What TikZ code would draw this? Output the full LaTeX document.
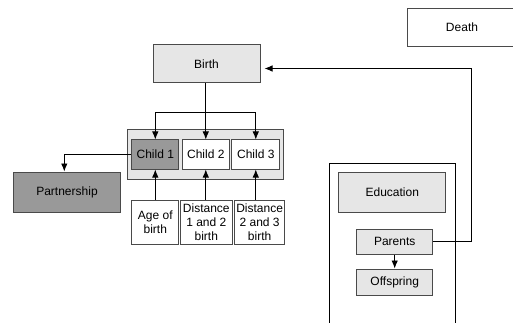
\documentclass[tikz,border=0pt]{standalone}
\usepackage{fontspec}
\setmainfont{Liberation Sans}
\usetikzlibrary{arrows.meta}
\definecolor{lightbox}{HTML}{E6E6E6}
\definecolor{darkbox}{HTML}{999999}
\definecolor{edge}{HTML}{4A4A4A}
\begin{document}
\begin{tikzpicture}[x=1pt,y=-1pt,
  box/.style={draw=edge,line width=1pt,inner sep=0pt,font=\fontsize{12}{14}\selectfont,align=center},
  lbox/.style={box,fill=lightbox},
  dbox/.style={box,fill=darkbox},
  wbox/.style={box,fill=white},
  conn/.style={line width=0.9pt,black},
  arr/.style={conn,-{Latex[length=8pt,width=6.5pt]}}]
\clip (0,0) rectangle (513,323);
\fill[white] (0,0) rectangle (513,323);
% container
\node[draw=black,line width=0.9pt,minimum width=125.7pt,minimum height=170pt,inner sep=0pt,anchor=north west] (cont) at (329.3,163.3) {};
\node[lbox,minimum width=107pt,minimum height=38pt] (birth) at (206.5,64) {Birth};
\node[wbox,minimum width=110pt,minimum height=38.5pt] (death) at (462,27.5) {Death};
\node[lbox,minimum width=155.6pt,minimum height=49pt] (grp) at (205.5,154.5) {};
\node[dbox,minimum width=47.3pt,minimum height=29pt] (c1) at (155.3,154.5) {Child 1};
\node[wbox,minimum width=47.3pt,minimum height=29pt] (c2) at (205.8,154.5) {Child 2};
\node[wbox,minimum width=48.3pt,minimum height=29pt] (c3) at (255.8,154.5) {Child 3};
\node[dbox,minimum width=107.4pt,minimum height=40pt] (part) at (67,192) {Partnership};
\node[wbox,minimum width=47.3pt,minimum height=44pt] (age) at (155.3,222) {Age of\\birth};
\node[wbox,minimum width=52pt,minimum height=44pt] (d12) at (206.3,222) {Distance\\1 and 2\\birth};
\node[wbox,minimum width=50.7pt,minimum height=44pt] (d23) at (259.6,222) {Distance\\2 and 3\\birth};
\node[lbox,minimum width=106.7pt,minimum height=40pt] (edu) at (392.3,192) {Education};
\node[lbox,minimum width=76pt,minimum height=25pt] (par) at (394.7,241.5) {Parents};
\node[lbox,minimum width=76pt,minimum height=26pt] (off) at (394.7,282) {Offspring};
% connectors
\coordinate (j) at (205.8,112);
\draw[conn] (birth.south -| j) -- (j);
\draw[arr] (j) -| (c1.north);
\draw[arr] (j) -| (c3.north);
\draw[arr] (j) -- (c2.north);
\draw[arr] (c1.west) -| ([xshift=-2.7pt]part.north);
\draw[arr] (age.north) -- (c1.south);
\draw[arr] (c2.south |- d12.north) -- (c2.south);
\draw[arr] (c3.south |- d23.north) -- (c3.south);
\coordinate (r) at (471.7,68.5);
\draw[conn] (par.east) -| (r);
\draw[arr,shorten >=4pt] (r) -- (birth.east |- r);
\draw[arr] (par.south) -- (off.north);
\end{tikzpicture}
\end{document}
